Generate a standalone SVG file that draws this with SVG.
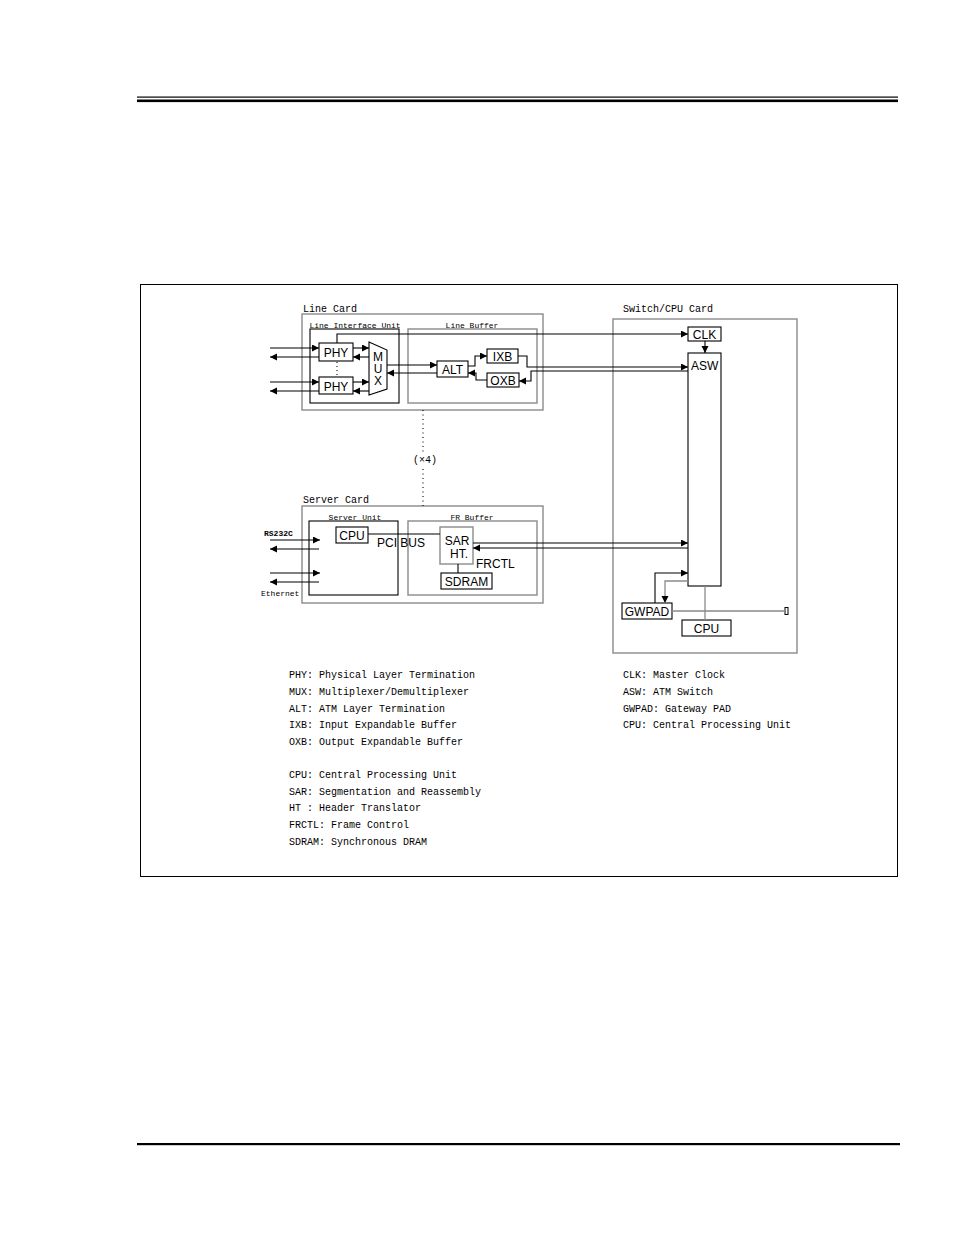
<svg xmlns="http://www.w3.org/2000/svg" width="954" height="1235" viewBox="0 0 954 1235">
<style>
.card{fill:none;stroke:#8a8a8a;stroke-width:1.4}
.unit{fill:none;stroke:#000;stroke-width:1.1}
.box{fill:#fff;stroke:#000;stroke-width:1.1}
.gbox{fill:#fff;stroke:#8a8a8a;stroke-width:1.4}
.lbl{font-family:"Liberation Sans",Arial,sans-serif;font-size:12px;fill:#000}
.cap{font-family:"Liberation Mono","DejaVu Sans Mono",monospace;font-size:10px;fill:#000}
.sm{font-family:"Liberation Mono","DejaVu Sans Mono",monospace;font-size:8px;fill:#000}
.leg{font-family:"Liberation Mono","DejaVu Sans Mono",monospace;font-size:10px;fill:#000}
.c{fill:none;stroke:#000;stroke-width:1.1}
.g{fill:none;stroke:#8a8a8a;stroke-width:1.3}
.a{marker-end:url(#ah)}
</style>
<defs>
<marker id="ah" markerUnits="userSpaceOnUse" markerWidth="8" markerHeight="8" refX="7" refY="3.5" orient="auto">
<path d="M0,0 L7,3.5 L0,7 z" fill="#000"/>
</marker>
</defs>
<rect width="954" height="1235" fill="#fff"/>
<g id="page-rules">
<rect x="137" y="96.5" width="761" height="1.2" fill="#000"/>
<rect x="137" y="99.5" width="761" height="2.6" fill="#000"/>
<rect x="137" y="1143" width="763" height="2.2" fill="#000"/>
</g>
<rect id="frame" x="140.5" y="284.5" width="757" height="592" fill="none" stroke="#000" stroke-width="1"/>

<g id="line-card">
<rect class="card" x="302" y="314" width="241" height="96"/>
<text class="cap" x="303" y="312">Line Card</text>
</g>
<g id="line-interface-unit">
<rect class="unit" x="310" y="329" width="89" height="74"/>
<text class="sm" x="355" y="328" text-anchor="middle">Line Interface Unit</text>
</g>
<g id="line-buffer">
<rect class="card" x="408" y="329" width="129" height="74"/>
<text class="sm" x="472" y="328" text-anchor="middle">Line Buffer</text>
</g>
<g id="phy1"><rect class="box" x="319" y="343" width="34" height="18"/><text class="lbl" x="336" y="357" text-anchor="middle">PHY</text></g>
<g id="phy2"><rect class="box" x="319" y="377" width="34" height="17"/><text class="lbl" x="336" y="391" text-anchor="middle">PHY</text></g>
<g id="mux">
<polygon class="box" points="369,342 387,350 387,389 369,395"/>
<text class="lbl" x="378" y="361" text-anchor="middle">M</text>
<text class="lbl" x="378" y="373" text-anchor="middle">U</text>
<text class="lbl" x="378" y="385" text-anchor="middle">X</text>
</g>
<g id="alt"><rect class="box" x="437" y="361" width="31" height="16"/><text class="lbl" x="452.5" y="374" text-anchor="middle">ALT</text></g>
<g id="ixb"><rect class="box" x="487" y="349" width="31" height="14"/><text class="lbl" x="502.5" y="361" text-anchor="middle">IXB</text></g>
<g id="oxb"><rect class="box" x="487" y="373" width="32" height="14"/><text class="lbl" x="503" y="385" text-anchor="middle">OXB</text></g>

<g id="server-card">
<rect class="card" x="302" y="506" width="241" height="97"/>
<text class="cap" x="303" y="503">Server Card</text>
</g>
<g id="server-unit">
<rect class="unit" x="309" y="521" width="89" height="74"/>
<text class="sm" x="355" y="520" text-anchor="middle">Server Unit</text>
</g>
<g id="fr-buffer">
<rect class="card" x="408" y="521" width="129" height="74"/>
<text class="sm" x="472" y="520" text-anchor="middle">FR Buffer</text>
</g>
<g id="cpu-server"><rect class="box" x="336" y="527" width="32" height="16"/><text class="lbl" x="352" y="540" text-anchor="middle">CPU</text></g>
<g id="sar-ht"><rect class="gbox" x="440" y="527" width="33" height="37"/><text class="lbl" x="457" y="545" text-anchor="middle">SAR</text><text class="lbl" x="459" y="558" text-anchor="middle">HT.</text></g>
<g id="sdram"><rect class="box" x="441" y="573" width="51" height="16"/><text class="lbl" x="466.5" y="586" text-anchor="middle">SDRAM</text></g>
<text class="lbl" x="476" y="568">FRCTL</text>
<text class="lbl" x="377" y="547">PCI BUS</text>
<text class="sm" x="264" y="536" font-weight="bold">RS232C</text>
<text class="sm" x="261" y="596">Ethernet</text>
<text class="leg" x="425" y="463" text-anchor="middle">(×4)</text>

<g id="switch-card">
<rect class="card" x="613" y="319" width="184" height="334"/>
<text class="cap" x="623" y="312">Switch/CPU Card</text>
</g>
<g id="clk"><rect class="box" x="688" y="327" width="33" height="14"/><text class="lbl" x="704.5" y="339" text-anchor="middle">CLK</text></g>
<g id="asw"><rect class="box" x="688" y="353" width="33" height="233"/><text class="lbl" x="691" y="370">ASW</text></g>
<g id="gwpad"><rect class="box" x="622" y="603" width="50" height="16"/><text class="lbl" x="647" y="616" text-anchor="middle">GWPAD</text></g>
<g id="cpu-switch"><rect class="box" x="682" y="620" width="49" height="16"/><text class="lbl" x="706.5" y="633" text-anchor="middle">CPU</text></g>
<g id="terminator"><rect x="785" y="607.5" width="3" height="7" fill="#fff" stroke="#000" stroke-width="1"/></g>

<g id="connectors">
<path class="c a" d="M270,348 H319"/>
<path class="c a" d="M319,357 H270"/>
<path class="c a" d="M270,382 H319"/>
<path class="c a" d="M319,391 H270"/>
<path class="c a" d="M353,348 H369"/>
<path class="c a" d="M369,357 H353"/>
<path class="c a" d="M353,382 H369"/>
<path class="c a" d="M369,391 H353"/>
<path class="c a" d="M387,365 H437"/>
<path class="c a" d="M437,373 H387"/>
<path class="c a" d="M468,366 H475 V356 H487"/>
<path class="c a" d="M487,380 H476 V373 H468"/>
<path class="c a" d="M518,356 H527 V367 H688"/>
<path class="c a" d="M688,371 H531 V381 H519"/>
<path class="c a" d="M337,343 V334 H688"/>
<path class="c a" d="M705,341 V353"/>
<path class="c" d="M337,362 V377" stroke-dasharray="1,3"/>
<path class="c" d="M423,410 V452 M423,469 V506" stroke-dasharray="1,3.5"/>
<path class="c a" d="M270,540 H320"/>
<path class="c a" d="M319,549 H270"/>
<path class="c a" d="M270,573 H320"/>
<path class="c a" d="M319,582 H270"/>
<path class="c" d="M368,534 H440"/>
<path class="c a" d="M473,543 H688"/>
<path class="c a" d="M688,548 H473"/>
<path class="c" d="M458,564 V573"/>
<path class="c a" d="M655,603 V573 H688"/>
<path class="g a" d="M688,581 H665 V603"/>
<path class="g" d="M705,586 V620"/>
<path class="g" d="M672,611 H785"/>
</g>

<g id="legend-left">
<text class="leg" x="289" y="678">PHY: Physical Layer Termination</text>
<text class="leg" x="289" y="695">MUX: Multiplexer/Demultiplexer</text>
<text class="leg" x="289" y="712">ALT: ATM Layer Termination</text>
<text class="leg" x="289" y="728">IXB: Input Expandable Buffer</text>
<text class="leg" x="289" y="745">OXB: Output Expandable Buffer</text>
<text class="leg" x="289" y="778">CPU: Central Processing Unit</text>
<text class="leg" x="289" y="795">SAR: Segmentation and Reassembly</text>
<text class="leg" x="289" y="811">HT : Header Translator</text>
<text class="leg" x="289" y="828">FRCTL: Frame Control</text>
<text class="leg" x="289" y="845">SDRAM: Synchronous DRAM</text>
</g>
<g id="legend-right">
<text class="leg" x="623" y="678">CLK: Master Clock</text>
<text class="leg" x="623" y="695">ASW: ATM Switch</text>
<text class="leg" x="623" y="712">GWPAD: Gateway PAD</text>
<text class="leg" x="623" y="728">CPU: Central Processing Unit</text>
</g>
</svg>
